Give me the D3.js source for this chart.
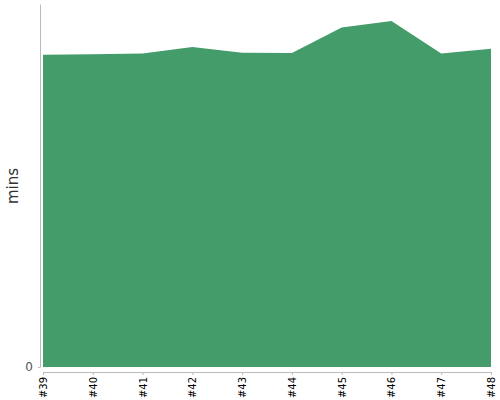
<!DOCTYPE html>
<html>
<head>
<meta charset="utf-8">
<script src="https://cdn.jsdelivr.net/npm/d3@7"></script>
<style>
  body { margin: 0; background: #fff; }
  svg text { font-family: "DejaVu Sans", sans-serif; }
  .axis path, .axis line { stroke: #bbb; }
</style>
</head>
<body>
<div id="chart"></div>
<script>
var w = 500, h = 400;

// build numbers and duration in minutes
var builds = [39, 40, 41, 42, 43, 44, 45, 46, 47, 48];
var mins = [51.6, 51.7, 51.8, 52.9, 51.95, 51.9, 56.1, 57.2, 51.8, 52.6];
var yTicks = [0];

var x = d3.scaleLinear().domain([39, 48]).range([43, 491]);
var y = d3.scaleLinear().domain([0, 60]).range([367, 4]);

var svg = d3.select('#chart')
  .append('svg')
  .attr('width', w)
  .attr('height', h);

var area = d3.area()
  .x(function(d, i) { return x(builds[i]); })
  .y0(y(0))
  .y1(function(d) { return y(d); });

svg.append('path')
  .datum(mins)
  .attr('fill', '#449c6b')
  .attr('d', area);

// y axis
var yAxis = svg.append('g')
  .attr('class', 'axis')
  .attr('transform', 'translate(40,0)')
  .call(d3.axisLeft(y).tickValues(yTicks).tickSize(2).tickSizeOuter(0).tickPadding(5));
yAxis.selectAll('text')
  .style('font-size', '12px')
  .style('fill', '#555');

// x axis
var xAxis = svg.append('g')
  .attr('class', 'axis')
  .attr('transform', 'translate(0,372)')
  .call(d3.axisBottom(x).tickValues(builds).tickSize(3).tickSizeOuter(0)
    .tickFormat(function(d) { return '#' + d; }));
xAxis.selectAll('text')
  .attr('transform', 'rotate(-90)')
  .attr('x', -5)
  .attr('y', 0)
  .attr('dy', '.35em')
  .style('text-anchor', 'end')
  .style('font-size', '10px')
  .style('fill', '#000');

svg.append('text')
  .attr('transform', 'translate(18,186) rotate(-90)')
  .attr('text-anchor', 'middle')
  .style('font-size', '15px')
  .style('fill', '#333')
  .text('mins');
</script>
</body>
</html>
